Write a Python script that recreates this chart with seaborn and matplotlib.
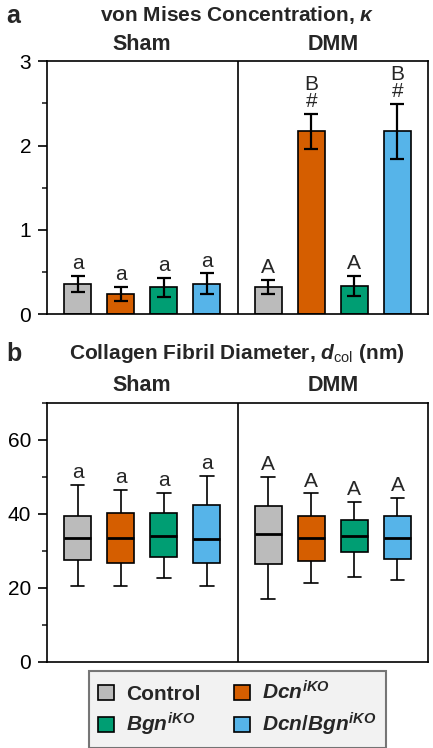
import pandas as pd
import matplotlib
matplotlib.use('Agg')
import matplotlib.pyplot as plt
import matplotlib.transforms as mtransforms
from matplotlib.ticker import MultipleLocator
from matplotlib.patches import Patch
import seaborn as sns

# --- DATA ---
SURGERY = ['Sham', 'DMM']
GENOTYPES = ['Control', 'Dcn', 'Bgn', 'DcnBgn']
LEGEND_LABELS = ['Control', r'$Dcn^{iKO}$', r'$Bgn^{iKO}$', r'$Dcn/Bgn^{iKO}$']
COLORS = ['#BBBBBB', '#D55E00', '#009E73', '#56B4E9']

# panel a: von Mises kappa, mean and SEM (order = GENOTYPES)
KAPPA_SHAM = [0.36, 0.24, 0.32, 0.36]
KAPPA_SHAM_ERR = [0.095, 0.08, 0.115, 0.125]
KAPPA_DMM = [0.32, 2.17, 0.33, 2.17]
KAPPA_DMM_ERR = [0.085, 0.205, 0.12, 0.325]
LETTERS_A_SHAM = ['a', 'a', 'a', 'a']
LETTERS_A_DMM = ['A', 'B\n#', 'A', 'B\n#']

# panel b: fibril diameter (nm) -> whisker low, Q1, median, Q3, whisker high
DCOL_SHAM = [
    [20.5, 27.5, 33.5, 39.4, 47.7],
    [20.5, 26.7, 33.4, 40.3, 46.4],
    [22.5, 28.2, 34.1, 40.3, 45.7],
    [20.5, 26.6, 33.2, 42.3, 50.2],
]
DCOL_DMM = [
    [17.0, 26.4, 34.6, 42.1, 50.0],
    [21.4, 27.3, 33.5, 39.3, 45.5],
    [22.9, 29.6, 33.9, 38.4, 43.2],
    [22.0, 27.7, 33.5, 39.3, 44.3],
]
LETTERS_B_SHAM = ['a', 'a', 'a', 'a']
LETTERS_B_DMM = ['A', 'A', 'A', 'A']

# --- STYLE ---
sns.set_theme(style='ticks')
plt.rcParams['font.family'] = ['Liberation Sans', 'DejaVu Sans']
plt.rcParams['mathtext.fontset'] = 'custom'
plt.rcParams['mathtext.it'] = 'Liberation Sans:italic:bold'
plt.rcParams['mathtext.rm'] = 'Liberation Sans:bold'
plt.rcParams['mathtext.sf'] = 'Liberation Sans'
plt.rcParams['mathtext.bf'] = 'Liberation Sans:bold'

LW = 1.2
WIDTH = 0.905
GAP = 0.37
LETTER_FS = 15


def style_axes(ax, major, minor, ylim):
    ax.set_xlim(-0.5, 1.5)
    ax.set_ylim(*ylim)
    ax.set_xticks([])
    ax.set_xlabel('')
    ax.set_ylabel('')
    ax.yaxis.set_major_locator(MultipleLocator(major))
    ax.yaxis.set_minor_locator(MultipleLocator(minor))
    ax.tick_params(axis='y', which='major', length=6.5, width=LW, labelsize=15,
                   pad=5, colors='black')
    ax.tick_params(axis='y', which='minor', length=3.5, width=LW)
    for sp in ax.spines.values():
        sp.set_visible(True)
        sp.set_linewidth(LW)
        sp.set_color('black')
    ax.axvline(0.5, color='black', lw=LW)
    trans = mtransforms.blended_transform_factory(ax.transData, ax.transAxes)
    for i, s in enumerate(SURGERY):
        ax.text(i, 1.025, s, transform=trans, ha='center', va='bottom',
                fontsize=15.5, fontweight='bold')


fig = plt.figure(figsize=(4.33, 7.48), dpi=100)
ax_a = fig.add_axes([0.1085, 0.580, 0.880, 0.338])
ax_b = fig.add_axes([0.1085, 0.1154, 0.880, 0.3462])

# --- PANEL A: bars ---
df_a = pd.DataFrame({
    'surgery': ['Sham'] * 4 + ['DMM'] * 4,
    'genotype': GENOTYPES * 2,
    'kappa': KAPPA_SHAM + KAPPA_DMM,
    'err': KAPPA_SHAM_ERR + KAPPA_DMM_ERR,
    'letter': LETTERS_A_SHAM + LETTERS_A_DMM,
})
sns.barplot(data=df_a, x='surgery', y='kappa', hue='genotype', order=SURGERY,
            hue_order=GENOTYPES, palette=COLORS, saturation=1, errorbar=None,
            width=WIDTH, gap=GAP, edgecolor='black', linewidth=LW, legend=False,
            ax=ax_a)

centers = {}
for g, cont in zip(GENOTYPES, ax_a.containers):
    for s, bar in zip(SURGERY, cont.patches):
        centers[(s, g)] = bar.get_x() + bar.get_width() / 2

for _, row in df_a.iterrows():
    x = centers[(row['surgery'], row['genotype'])]
    ax_a.errorbar(x, row['kappa'], yerr=row['err'], color='black', lw=1.6,
                  capsize=4.7, capthick=1.6, zorder=5)
    ax_a.annotate(row['letter'], (x, row['kappa'] + row['err']), xytext=(0, 2),
                  textcoords='offset points', ha='center', va='bottom',
                  fontsize=LETTER_FS, linespacing=0.9)

style_axes(ax_a, 1, 0.5, (0, 3))

# --- PANEL B: boxes ---
rows = []
for s, groups in zip(SURGERY, [DCOL_SHAM, DCOL_DMM]):
    for g, vals in zip(GENOTYPES, groups):
        for v in vals:
            rows.append({'surgery': s, 'genotype': g, 'dcol': v})
df_b = pd.DataFrame(rows)

sns.boxplot(data=df_b, x='surgery', y='dcol', hue='genotype', order=SURGERY,
            hue_order=GENOTYPES, palette=COLORS, saturation=1, whis=(0, 100),
            width=WIDTH, gap=GAP, linecolor='black', linewidth=LW,
            showfliers=False, medianprops={'linewidth': 2.0}, legend=False,
            ax=ax_b)

for s, groups, letters in zip(SURGERY, [DCOL_SHAM, DCOL_DMM], [LETTERS_B_SHAM, LETTERS_B_DMM]):
    for g, vals, lab in zip(GENOTYPES, groups, letters):
        ax_b.annotate(lab, (centers[(s, g)], max(vals)), xytext=(0, 2),
                      textcoords='offset points', ha='center', va='bottom',
                      fontsize=LETTER_FS)

style_axes(ax_b, 20, 10, (0, 70))

# --- titles ---
fig.text(0.015, 0.995, 'a', fontsize=18, fontweight='bold', va='top')
fig.text(0.548, 0.995, r'von Mises Concentration, $\kappa$', fontsize=15,
         fontweight='bold', ha='center', va='top')
fig.text(0.015, 0.543, 'b', fontsize=18, fontweight='bold', va='top')
fig.text(0.548, 0.543, r'Collagen Fibril Diameter, $d_{\mathsf{col}}$ (nm)',
         fontsize=15, fontweight='bold', ha='center', va='top')

# --- legend ---
handles = [Patch(facecolor=c, edgecolor='black', linewidth=LW) for c in COLORS]
order = [0, 2, 1, 3]
leg = fig.legend([handles[i] for i in order], [LEGEND_LABELS[i] for i in order],
                 ncol=2, loc='center', bbox_to_anchor=(0.548, 0.0515),
                 prop={'weight': 'bold', 'size': 15}, frameon=True, fancybox=False,
                 handlelength=0.75, handleheight=0.75, handletextpad=0.6,
                 columnspacing=1.6, labelspacing=0.35, borderpad=0.45)
leg.get_frame().set_facecolor('#EFEFEF')
leg.get_frame().set_edgecolor('#555555')
leg.get_frame().set_linewidth(1.5)

fig.savefig('out.png', dpi=100)
